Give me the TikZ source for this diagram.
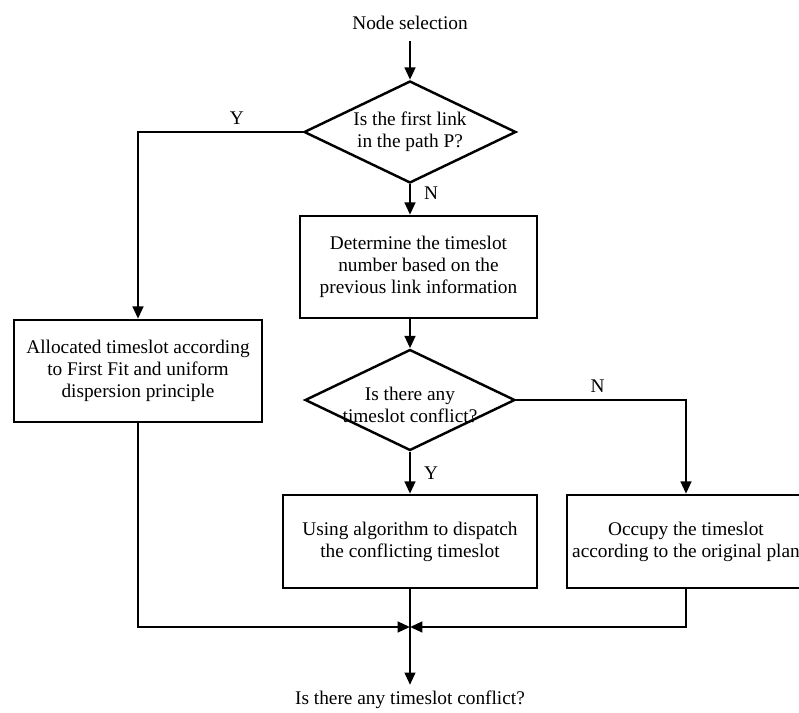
\documentclass[tikz,border=0pt]{standalone}
\usepackage{fontspec}
\setmainfont{Liberation Serif}
\usepackage{tikz}
\usetikzlibrary{arrows.meta, shapes.geometric, positioning}

\begin{document}
\begin{tikzpicture}[x=0.02cm, y=-0.02cm,
      every node/.style={font=\fontsize{11}{12.5}\selectfont},
      box/.style={draw, line width=1.4pt, align=center, inner sep=0pt},
      decision/.style={draw, diamond, line width=1.4pt, inner sep=0pt},
      arr/.style={-{Triangle[length=7pt, width=6pt]}, line width=1.4pt},
      flowline/.style={line width=1.4pt}]
      \useasboundingbox (0,0) rectangle (799,713);

      \node (start) at (410,23) {Node selection};

      \node[decision, minimum width=4.24cm, minimum height=2.04cm,
            label={[align=center]center:Is the first link\\in the path P?}]
            (firstlink) at (410,132) {};

      \node[box, minimum width=4.96cm, minimum height=2.04cm] (allocate) at (138,371)
            {Allocated timeslot according\\to First Fit and uniform\\dispersion principle};

      \node[box, minimum width=4.74cm, minimum height=2.04cm] (determine) at (418.5,267)
            {Determine the timeslot\\number based on the\\previous link information};

      \node[decision, minimum width=4.2cm, minimum height=2.02cm,
            label={[align=center, yshift=-3pt]center:Is there any\\timeslot conflict?}]
            (conflict) at (410,400) {};

      \node[box, minimum width=5.08cm, minimum height=1.86cm] (dispatch) at (410,541.5)
            {Using algorithm to dispatch\\the conflicting timeslot};

      \node[box, minimum width=4.76cm, minimum height=1.86cm] (occupy) at (686,541.5)
            {Occupy the timeslot\\according to the original plan};

      \coordinate (merge) at (410,627);
      \node (result) at (410,700) {Is there any timeslot conflict?};

      % connectors
      \draw[arr] ([yshift=-3pt]start.south) -- (firstlink.north);
      \draw[arr] (firstlink.west) -| (allocate.north)
            node[pos=0.2, above] {Y};
      \draw[arr] (firstlink.south) -- (firstlink.south |- determine.north)
            node[pos=0.3, right, xshift=4pt] {N};
      \draw[arr] (determine.south -| conflict.north) -- (conflict.north);
      \draw[arr] (conflict.east) -| (occupy.north)
            node[pos=0.24, above] {N};
      \draw[arr] (conflict.south) -- (dispatch.north)
            node[midway, right, xshift=4pt] {Y};

      \draw[arr] (allocate.south) |- (merge);
      \draw[arr] (occupy.south) |- (merge);
      \draw[flowline] (dispatch.south) -- (merge);
      \draw[arr] (merge) -- (result.north);
    \end{tikzpicture}
\end{document}
